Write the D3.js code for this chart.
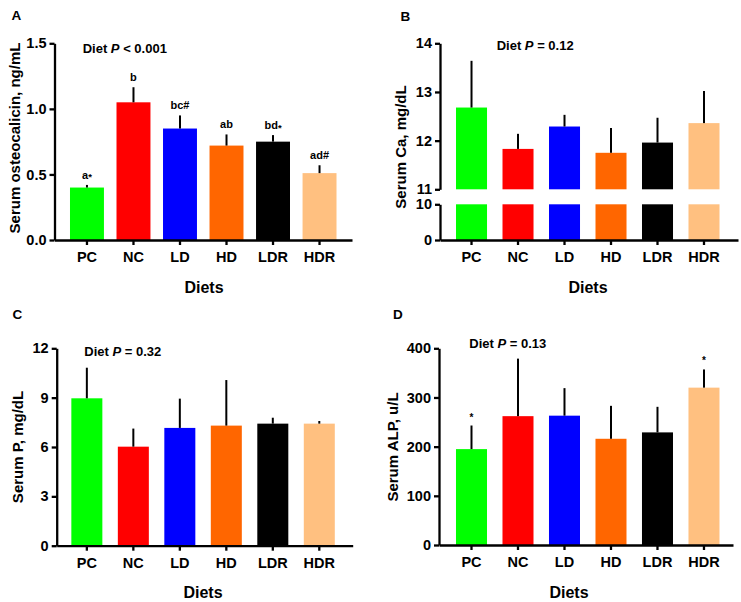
<!DOCTYPE html>
<html>
<head>
<meta charset="utf-8">
<script src="https://cdn.jsdelivr.net/npm/d3@7"></script>
<style>
  html, body { margin: 0; padding: 0; background: #fff; }
  svg { display: block; }
  text { font-family: "Liberation Sans", Arial, sans-serif; font-weight: bold; fill: #000; }
</style>
</head>
<body>
<svg id="chart" width="741" height="602"></svg>
<script>
// ---------------- DATA ----------------
const diets = ["PC", "NC", "LD", "HD", "LDR", "HDR"];
const dietColors = ["#00FF00", "#FF0000", "#0000FF", "#FF6600", "#000000", "#FFC080"];

// A: serum osteocalcin (ng/mL)
const osteoMean = [0.40, 1.05, 0.85, 0.72, 0.75, 0.51];
const osteoErr  = [0.02, 0.115, 0.10, 0.085, 0.05, 0.06];
const osteoLetters = ["a*", "b", "bc#", "ab", "bd*", "ad#"];
const osteoTicks = [0, 0.5, 1.0, 1.5];

// B: serum Ca (mg/dL)
const caMean = [12.68, 11.83, 12.29, 11.75, 11.96, 12.36];
const caErr  = [0.96, 0.31, 0.24, 0.51, 0.51, 0.66];
const caTicksUpper = [11, 12, 13, 14];
const caTicksLower = [0, 10];

// C: serum P (mg/dL)
const pMean = [8.96, 6.02, 7.16, 7.30, 7.42, 7.42];
const pErr  = [1.86, 1.10, 1.78, 2.77, 0.36, 0.16];
const pTicks = [0, 3, 6, 9, 12];

// D: serum ALP (u/L)
const alpMean = [195, 262, 263, 216, 229, 320];
const alpErr  = [48, 117, 56, 67, 52, 37];
const alpMarks = ["*", "", "", "", "", "*"];
const alpTicks = [0, 100, 200, 300, 400];

const pValues = ["< 0.001", "= 0.12", "= 0.32", "= 0.13"];

// ---------------- DRAW ----------------
const svg = d3.select("#chart");
const AX_W = 2.3;
const YT_FS = 14.5;
const XT_FS = 14.5;

function styleAxis(g) {
  g.selectAll(".domain").attr("stroke", "#000").attr("stroke-width", AX_W);
  g.selectAll(".tick line").attr("stroke", "#000").attr("stroke-width", AX_W);
  g.selectAll(".tick text")
    .attr("font-family", '"Liberation Sans", Arial, sans-serif')
    .attr("font-weight", "bold")
    .attr("fill", "#000");
}

function panel(cfg) {
  const g = svg.append("g");
  const x = d3.scaleBand().domain(diets)
    .range([cfg.x0, cfg.x1])
    .paddingInner(cfg.pi).paddingOuter(cfg.po).align(cfg.align);

  // panel letter
  g.append("text").attr("x", cfg.lx).attr("y", cfg.ly)
    .attr("font-size", 13.5).text(cfg.letter);

  // y title
  g.append("text")
    .attr("transform", `translate(${cfg.ytx},${cfg.yty}) rotate(-90)`)
    .attr("text-anchor", "middle").attr("font-size", 15).text(cfg.ytitle);

  // x title
  g.append("text").attr("x", cfg.dx).attr("y", cfg.yBase + 52.5)
    .attr("text-anchor", "middle").attr("font-size", 16).text("Diets");

  // P value
  const pt = g.append("text").attr("x", cfg.px).attr("y", cfg.py).attr("font-size", 13);
  pt.append("tspan").text("Diet ");
  pt.append("tspan").attr("font-style", "italic").text("P");
  pt.append("tspan").text(" " + cfg.pval);

  if (cfg.broken) {
    const yU = d3.scaleLinear().domain([11, 14]).range([cfg.yBreakTop, cfg.yTop]);
    const yL = d3.scaleLinear().domain([0, 10]).range([cfg.yBase, cfg.yBreakBot]);
    // lower bars (0..10)
    g.append("g").selectAll("rect").data(cfg.mean).join("rect")
      .attr("x", (d, i) => x(diets[i])).attr("width", x.bandwidth())
      .attr("y", yL(10)).attr("height", yL(0) - yL(10))
      .attr("fill", (d, i) => dietColors[i]);
    // upper bars (11..mean)
    g.append("g").selectAll("rect").data(cfg.mean).join("rect")
      .attr("x", (d, i) => x(diets[i])).attr("width", x.bandwidth())
      .attr("y", d => yU(d)).attr("height", d => yU(11) - yU(d))
      .attr("fill", (d, i) => dietColors[i]);
    g.append("g").selectAll("line").data(cfg.mean).join("line")
      .attr("x1", (d, i) => x(diets[i]) + x.bandwidth() / 2)
      .attr("x2", (d, i) => x(diets[i]) + x.bandwidth() / 2)
      .attr("y1", d => yU(d))
      .attr("y2", (d, i) => yU(d + cfg.err[i]))
      .attr("stroke", "#000").attr("stroke-width", 2);
    const ayU = g.append("g").attr("transform", `translate(${cfg.x0},0)`)
      .call(d3.axisLeft(yU).tickValues(caTicksUpper).tickFormat(d3.format("d"))
        .tickSize(5).tickSizeOuter(0).tickPadding(3));
    ayU.selectAll(".tick text").attr("font-size", YT_FS);
    styleAxis(ayU);
    const ayL = g.append("g").attr("transform", `translate(${cfg.x0},0)`)
      .call(d3.axisLeft(yL).tickValues(caTicksLower).tickFormat(d3.format("d"))
        .tickSize(5).tickSizeOuter(0).tickPadding(3));
    ayL.selectAll(".tick text").attr("font-size", YT_FS);
    styleAxis(ayL);
  } else {
    const y = d3.scaleLinear().domain(cfg.dom).range([cfg.yBase, cfg.yTop]);
    g.append("g").selectAll("rect").data(cfg.mean).join("rect")
      .attr("x", (d, i) => x(diets[i])).attr("width", x.bandwidth())
      .attr("y", d => y(d)).attr("height", d => y(0) - y(d))
      .attr("fill", (d, i) => dietColors[i]);
    g.append("g").selectAll("line").data(cfg.mean).join("line")
      .attr("x1", (d, i) => x(diets[i]) + x.bandwidth() / 2)
      .attr("x2", (d, i) => x(diets[i]) + x.bandwidth() / 2)
      .attr("y1", d => y(d))
      .attr("y2", (d, i) => y(d + cfg.err[i]))
      .attr("stroke", "#000").attr("stroke-width", 2);

    if (cfg.labels) {
      const lt = g.append("g").selectAll("text").data(cfg.labels).join("text")
        .attr("x", (d, i) => x(diets[i]) + x.bandwidth() / 2)
        .attr("y", (d, i) => y(cfg.mean[i] + cfg.err[i]) - 6)
        .attr("text-anchor", "middle").attr("font-size", 11);
      lt.each(function (d) {
        const t = d3.select(this);
        if (d.endsWith("*")) {
          t.append("tspan").text(d.slice(0, -1));
          t.append("tspan").attr("font-size", 9.5).attr("dy", 1.5).text("*");
        } else {
          t.text(d);
        }
      });
    }
    if (cfg.marks) {
      g.append("g").selectAll("text").data(cfg.marks).join("text")
        .attr("x", (d, i) => x(diets[i]) + x.bandwidth() / 2)
        .attr("y", (d, i) => y(cfg.mean[i] + cfg.err[i]) - 5)
        .attr("text-anchor", "middle").attr("font-size", 10)
        .attr("font-weight", "normal").text(d => d);
    }

    const ay = g.append("g").attr("transform", `translate(${cfg.x0},0)`)
      .call(d3.axisLeft(y).tickValues(cfg.ticks).tickFormat(cfg.fmt)
        .tickSize(5).tickSizeOuter(0).tickPadding(3));
    ay.selectAll(".tick text").attr("font-size", YT_FS);
    styleAxis(ay);
  }

  const ax = g.append("g").attr("transform", `translate(0,${cfg.yBase})`)
    .call(d3.axisBottom(x).tickSize(5).tickSizeOuter(0).tickPadding(7));
  ax.selectAll(".tick text").attr("font-size", XT_FS);
  styleAxis(ax);
}

panel({
  letter: "A", lx: 11.5, ly: 19.5,
  x0: 54.5, x1: 352, pi: 0.27, po: 0.333, align: 0.5,
  yBase: 240, yTop: 43.3, dom: [0, 1.5], ticks: osteoTicks, fmt: d3.format(".1f"),
  mean: osteoMean, err: osteoErr, labels: osteoLetters,
  ytitle: "Serum osteocalicin, ng/mL", ytx: 19.5, yty: 138,
  dx: 204, px: 82.7, py: 53.3, pval: pValues[0]
});

panel({
  letter: "B", lx: 400.5, ly: 20.7, broken: true,
  x0: 440, x1: 738, pi: 0.333, po: 0.371, align: 0.464,
  yBase: 240, yTop: 43.3, yBreakTop: 189.3, yBreakBot: 204.3,
  mean: caMean, err: caErr,
  ytitle: "Serum Ca, mg/dL", ytx: 406, yty: 147,
  dx: 588, px: 496.7, py: 50, pval: pValues[1]
});

panel({
  letter: "C", lx: 12.5, ly: 319,
  x0: 56.7, x1: 352.7, pi: 0.333, po: 0.35, align: 0.45,
  yBase: 545.7, yTop: 348.3, dom: [0, 12], ticks: pTicks, fmt: d3.format("d"),
  mean: pMean, err: pErr,
  ytitle: "Serum P, mg/dL", ytx: 22.5, yty: 447,
  dx: 203, px: 84.3, py: 355.7, pval: pValues[2]
});

panel({
  letter: "D", lx: 393, ly: 319.3,
  x0: 439, x1: 733, pi: 0.333, po: 0.328, align: 0.557,
  yBase: 545, yTop: 348.3, dom: [0, 400], ticks: alpTicks, fmt: d3.format("d"),
  mean: alpMean, err: alpErr, marks: alpMarks,
  ytitle: "Serum ALP, u/L", ytx: 398, yty: 447,
  dx: 569, px: 469.3, py: 347.7, pval: pValues[3]
});
</script>
</body>
</html>
